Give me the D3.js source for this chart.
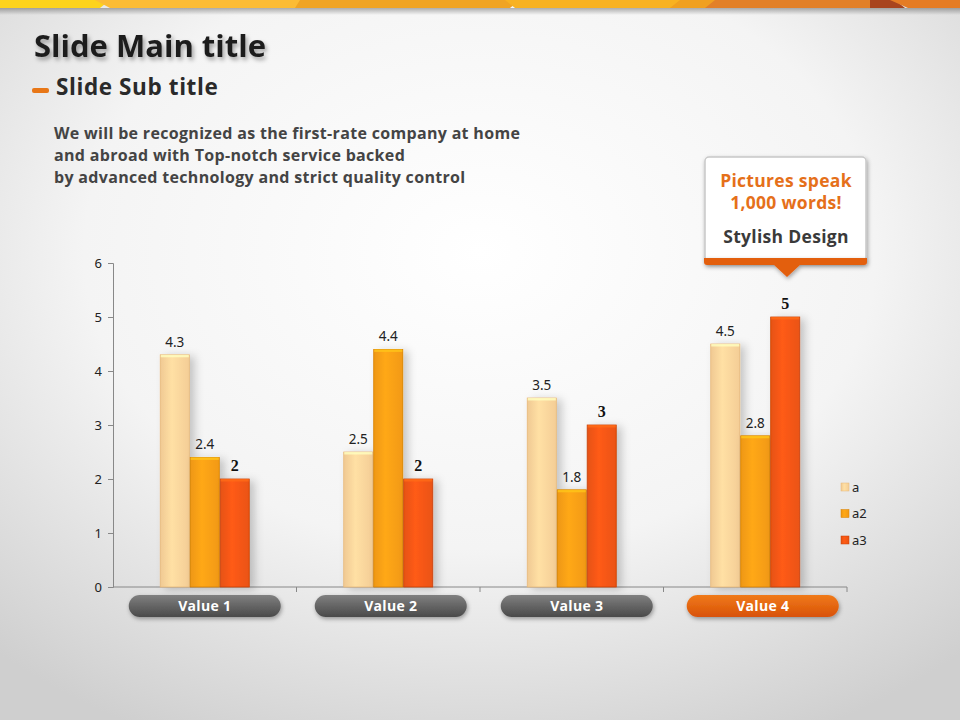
<!DOCTYPE html>
<html><head><meta charset="utf-8">
<script src="https://cdn.jsdelivr.net/npm/d3@7"></script>
<style>body{margin:0;overflow:hidden}svg{display:block}</style>
</head><body>
<svg id="c" width="960" height="720"></svg>
<script>
const categories = ["Value 1","Value 2","Value 3","Value 4"];
const seriesNames = ["a","a2","a3"];
const seriesA  = [4.3, 2.5, 3.5, 4.5];
const seriesA2 = [2.4, 4.4, 1.8, 2.8];
const seriesA3 = [2, 2, 3, 5];
const yTicks = [0,1,2,3,4,5,6];
const colors = ["#fdd49b","#fb9f14","#f25613"];
const edge = ["#e8b878","#d88000","#c84008"];

const svg = d3.select("#c");
const defs = svg.append("defs");
const bg = defs.append("radialGradient").attr("id","bg").attr("cx","50%").attr("cy","35%").attr("r","75%");
bg.append("stop").attr("offset","0%").attr("stop-color","#ffffff");
bg.append("stop").attr("offset","55%").attr("stop-color","#f4f4f4");
bg.append("stop").attr("offset","100%").attr("stop-color","#cfcfcf");
const sh = defs.append("filter").attr("id","ts").attr("x","-10%").attr("y","-30%").attr("width","130%").attr("height","170%");
sh.append("feDropShadow").attr("dx",2).attr("dy",3).attr("stdDeviation",2).attr("flood-color","#000").attr("flood-opacity",0.35);
const bs = defs.append("filter").attr("id","bs").attr("x","-30%").attr("y","-10%").attr("width","180%").attr("height","130%");
bs.append("feDropShadow").attr("dx",5).attr("dy",2).attr("stdDeviation",4).attr("flood-color","#000").attr("flood-opacity",0.2);
const cs = defs.append("filter").attr("id","cs").attr("x","-20%").attr("y","-20%").attr("width","140%").attr("height","160%");
cs.append("feDropShadow").attr("dx",1).attr("dy",2).attr("stdDeviation",2).attr("flood-color","#000").attr("flood-opacity",0.35);
const gp = defs.append("linearGradient").attr("id","pillG").attr("x1",0).attr("y1",0).attr("x2",0).attr("y2",1);
gp.append("stop").attr("offset","0%").attr("stop-color","#808080");
gp.append("stop").attr("offset","100%").attr("stop-color","#4a4a4a");
const go = defs.append("linearGradient").attr("id","pillO").attr("x1",0).attr("y1",0).attr("x2",0).attr("y2",1);
go.append("stop").attr("offset","0%").attr("stop-color","#f07a1a");
go.append("stop").attr("offset","100%").attr("stop-color","#d85208");
const bsh = defs.append("linearGradient").attr("id","bannerSh").attr("x1",0).attr("y1",0).attr("x2",0).attr("y2",1);
bsh.append("stop").attr("offset","0%").attr("stop-color","#000").attr("stop-opacity",0.3);
bsh.append("stop").attr("offset","100%").attr("stop-color","#000").attr("stop-opacity",0);
colors.forEach((c,i)=>{
  const g = defs.append("linearGradient").attr("id","bar"+i).attr("x1",0).attr("y1",0).attr("x2",1).attr("y2",0);
  g.append("stop").attr("offset","0%").attr("stop-color",d3.color(c).darker(0.15));
  g.append("stop").attr("offset","40%").attr("stop-color",d3.color(c).brighter(0.15));
  g.append("stop").attr("offset","100%").attr("stop-color",d3.color(c).darker(0.1));
});

svg.append("rect").attr("width",960).attr("height",720).attr("fill","url(#bg)");

// top banner
const banner = svg.append("g");
banner.append("rect").attr("x",0).attr("y",8).attr("width",960).attr("height",7).attr("fill","url(#bannerSh)");
const polys = [
  ["#fdd31c",[[0,0],[110,0],[100,8],[0,8]]],
  ["#fcbc35",[[95,0],[310,0],[300,8],[110,8]]],
  ["#f0a424",[[300,0],[520,0],[510,8],[295,8]]],
  ["#f8b222",[[505,0],[690,0],[675,8],[515,8]]],
  ["#f0a020",[[680,0],[720,0],[710,8],[670,8]]],
  ["#e28028",[[715,0],[875,0],[870,8],[705,8]]],
  ["#a8441e",[[870,0],[895,0],[905,8],[870,8]]],
  ["#e57c24",[[890,0],[960,0],[960,8],[908,8]]]
];
polys.forEach(p=>banner.append("polygon").attr("points",p[1].map(q=>q.join(",")).join(" ")).attr("fill",p[0]));

// titles
svg.append("text").attr("x",34).attr("y",57).text("Slide Main title")
  .attr("font-family","Open Sans").attr("font-weight",700).attr("font-size",31).attr("fill","#1e1e1e").attr("filter","url(#ts)").attr("letter-spacing",0);
svg.append("rect").attr("x",32).attr("y",88).attr("width",17).attr("height",5).attr("rx",2).attr("fill","#e87717");
svg.append("text").attr("x",56).attr("y",95).text("Slide Sub title")
  .attr("font-family","Open Sans").attr("font-weight",700).attr("font-size",22.5).attr("fill","#2a2a2a").attr("letter-spacing",0.6);
const body = ["We will be recognized as the first-rate company at home","and abroad with Top-notch service backed","by advanced technology and strict quality control"];
body.forEach((t,i)=>svg.append("text").attr("x",54).attr("y",139+i*22).text(t)
  .attr("font-family","Open Sans").attr("font-weight",700).attr("font-size",16).attr("fill","#444").attr("letter-spacing",0.32));

// chart
const x0 = 113, x1 = 847, yb = 587, yt = 263;
const y = d3.scaleLinear().domain([0,6]).range([yb,yt]);
const x = d3.scaleBand().domain(categories).range([x0,x1]).paddingInner(0).paddingOuter(0);
const xs = d3.scaleBand().domain(seriesNames).range([0,89]).paddingInner(0.03);
const gy = svg.append("g").attr("transform",`translate(${x0},0)`).call(d3.axisLeft(y).tickValues(yTicks).tickSize(5).tickFormat(d3.format("d")));
gy.select(".domain").attr("stroke","#888");
gy.selectAll(".tick line").attr("stroke","#888");
gy.selectAll(".tick text").attr("font-family","Noto Sans").attr("font-size",13).attr("fill","#222").attr("dx",-3);
const gx = svg.append("g").attr("transform",`translate(0,${yb})`).call(d3.axisBottom(x).tickSize(0).tickFormat(""));
gx.select(".domain").attr("stroke","#888").attr("d",`M${x0},0H${x1}V5`);
categories.slice(1).forEach(c=>gx.append("line").attr("x1",x(c)).attr("x2",x(c)).attr("y1",0).attr("y2",5).attr("stroke","#888"));

const allSeries = [seriesA, seriesA2, seriesA3];
const gbars = svg.append("g");
const pillStep = 186;
const pillStart = x(categories[0]) + x.bandwidth()/2;
categories.forEach((c,ci)=>{
  const gstart = x(c) + x.bandwidth()/2 - 89/2;
  allSeries.forEach((vals,si)=>{
    const bx = gstart + xs(seriesNames[si]);
    const bw = xs.bandwidth();
    const v = vals[ci];
    gbars.append("rect").attr("x",bx).attr("y",y(v)).attr("width",bw).attr("height",yb-y(v))
      .attr("fill","url(#bar"+si+")").attr("stroke",edge[si]).attr("stroke-width",0.8).attr("filter","url(#bs)");
    gbars.append("rect").attr("x",bx+0.5).attr("y",y(v)).attr("width",bw-1).attr("height",2.5)
      .attr("fill",d3.color(colors[si]).brighter(0.6)).attr("opacity",0.8);
    const t = gbars.append("text").attr("x",bx+bw/2).attr("y",y(v)-8).attr("text-anchor","middle").text(v);
    if(si===2) t.attr("font-family","Liberation Serif").attr("font-weight",700).attr("font-size",16).attr("fill","#111");
    else t.attr("font-family","Noto Sans").attr("font-size",13.5).attr("fill","#222");
  });
  // pill
  const cx = pillStart + ci*pillStep;
  svg.append("rect").attr("x",cx-76).attr("y",595).attr("width",152).attr("height",22).attr("rx",11)
    .attr("fill", ci===3?"url(#pillO)":"url(#pillG)").attr("filter","url(#cs)");
  svg.append("text").attr("x",cx).attr("y",611).attr("text-anchor","middle").text(c)
    .attr("font-family","Open Sans").attr("font-weight",700).attr("font-size",14).attr("fill","#fff").attr("letter-spacing",0.3);
});

// legend
seriesNames.forEach((n,i)=>{
  const ly = 487 + i*26.5;
  svg.append("rect").attr("x",841).attr("y",ly-4).attr("width",8).attr("height",8).attr("fill","url(#bar"+i+")").attr("stroke",edge[i]).attr("stroke-width",0.5);
  svg.append("text").attr("x",852).attr("y",ly+4.5).text(n).attr("font-family","Noto Sans").attr("font-size",13).attr("fill","#222");
});

// callout
const co = svg.append("g");
co.append("rect").attr("x",705).attr("y",157).attr("width",161).attr("height",104).attr("rx",4).attr("fill","#fff").attr("stroke","#c8c8c8").attr("stroke-width",1.5).attr("filter","url(#cs)");
co.append("path").attr("d","M704,258H867V262Q867,265 864,265H800L787,277L774,265H707Q704,265 704,262Z").attr("fill","#e35f10").attr("filter","url(#cs)");
const ct = (t,yy,col)=>co.append("text").attr("x",786).attr("y",yy).attr("text-anchor","middle").text(t)
  .attr("font-family","Open Sans").attr("font-weight",700).attr("font-size",17.5).attr("fill",col).attr("letter-spacing",0.3);
ct("Pictures speak",187,"#e5701a");
ct("1,000 words!",209,"#e5701a");
ct("Stylish Design",243,"#3a3a3a");
</script>
</body></html>
